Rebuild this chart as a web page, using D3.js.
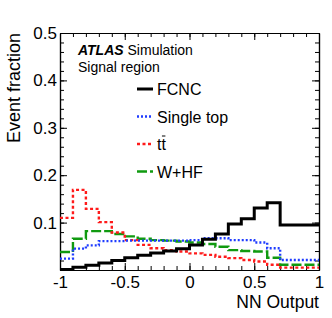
<!DOCTYPE html>
<html>
<head>
<meta charset="utf-8">
<script src="https://cdn.jsdelivr.net/npm/d3@7"></script>
<style>
  body { margin: 0; background: #fff; }
  text { font-family: "Liberation Sans", Arial, sans-serif; fill: #000; }
</style>
</head>
<body>
<div id="chart"></div>
<script>
var svgWidth = 332;
var svgHeight = 318;

var margin = { top: 33, right: 13, bottom: 48, left: 60 };
var width = svgWidth - margin.left - margin.right;
var height = svgHeight - margin.top - margin.bottom;

// bin edges of the NN output histograms (last bin is wide)
var binEdges = [-1, -0.9, -0.8, -0.7, -0.6, -0.5, -0.4, -0.3, -0.2, -0.1, 0,
  0.1, 0.2, 0.3, 0.4, 0.5, 0.6, 0.7, 1];

// event fractions per bin
var fcnc = [0.001, 0.006, 0.010, 0.015, 0.020, 0.026, 0.031, 0.036, 0.040, 0.045,
  0.053, 0.065, 0.076, 0.097, 0.108, 0.131, 0.142, 0.095];
var singleTop = [0.024, 0.045, 0.052, 0.061, 0.061, 0.062, 0.062, 0.062, 0.062, 0.062,
  0.063, 0.067, 0.067, 0.063, 0.063, 0.058, 0.046, 0.021];
var ttbar = [0.110, 0.169, 0.129, 0.101, 0.079, 0.063, 0.053, 0.046, 0.042, 0.039,
  0.035, 0.032, 0.028, 0.025, 0.021, 0.018, 0.011, 0.005];
var wHF = [0.038, 0.066, 0.082, 0.082, 0.076, 0.071, 0.066, 0.063, 0.062, 0.060,
  0.058, 0.055, 0.049, 0.042, 0.040, 0.039, 0.026, 0.011];

var xTicks = [-1, -0.5, 0, 0.5, 1];
var yTicks = [0.1, 0.2, 0.3, 0.4, 0.5];

var series = [
  { name: "FCNC", values: fcnc, color: "#000000", width: 3, dash: null },
  { name: "Single top", values: singleTop, color: "#1f3cff", width: 2.4, dash: "2,2" },
  { name: "tt", values: ttbar, color: "#ff1a1a", width: 2.4, dash: "3,2.5" },
  { name: "W+HF", values: wHF, color: "#109a10", width: 2.4, dash: "10,3" }
];

var svg = d3.select("#chart")
  .append("svg")
  .attr("width", svgWidth)
  .attr("height", svgHeight);

var chartGroup = svg.append("g")
  .attr("transform", `translate(${margin.left}, ${margin.top})`);

var xScale = d3.scaleLinear().domain([-1, 1]).range([0, width]);
var yScale = d3.scaleLinear().domain([0, 0.5]).range([height, 0]);

var xMinor = d3.range(-10, 11).map(d => d / 10);
var yMinor = d3.range(0, 26).map(d => d / 50);

function styleAxis(g) {
  g.selectAll("path.domain").attr("stroke", "#000").attr("stroke-width", 1.2);
  g.selectAll(".tick line").attr("stroke", "#000").attr("stroke-width", 1);
  g.selectAll(".tick text")
    .style("font-family", "'Liberation Sans', Arial, sans-serif")
    .attr("font-size", 17)
    .attr("fill", "#000");
}

// minor ticks (inside, all four sides)
chartGroup.append("g")
  .attr("transform", `translate(0, ${height})`)
  .call(d3.axisBottom(xScale).tickValues(xMinor).tickFormat("").tickSize(-4).tickSizeOuter(0))
  .call(styleAxis);
chartGroup.append("g")
  .call(d3.axisTop(xScale).tickValues(xMinor).tickFormat("").tickSize(-4).tickSizeOuter(0))
  .call(styleAxis);
chartGroup.append("g")
  .call(d3.axisLeft(yScale).tickValues(yMinor).tickFormat("").tickSize(-4).tickSizeOuter(0))
  .call(styleAxis);
chartGroup.append("g")
  .attr("transform", `translate(${width}, 0)`)
  .call(d3.axisRight(yScale).tickValues(yMinor).tickFormat("").tickSize(-4).tickSizeOuter(0))
  .call(styleAxis);

// major ticks with labels
chartGroup.append("g")
  .attr("transform", `translate(0, ${height})`)
  .call(d3.axisBottom(xScale).tickValues(xTicks).tickFormat(d => d3.format("")(d).replace("−", "-"))
    .tickSize(-7).tickSizeOuter(0).tickPadding(6))
  .call(styleAxis);
chartGroup.append("g")
  .call(d3.axisTop(xScale).tickValues(xTicks).tickFormat("").tickSize(-7).tickSizeOuter(0))
  .call(styleAxis);
chartGroup.append("g")
  .call(d3.axisLeft(yScale).tickValues(yTicks).tickFormat(d3.format(".1f"))
    .tickSize(-7).tickSizeOuter(0).tickPadding(3))
  .call(styleAxis);
chartGroup.append("g")
  .attr("transform", `translate(${width}, 0)`)
  .call(d3.axisRight(yScale).tickValues(yTicks).tickFormat("").tickSize(-7).tickSizeOuter(0))
  .call(styleAxis);

// histogram step lines
var stepLine = d3.line()
  .x(d => xScale(d[0]))
  .y(d => yScale(d[1]));

function stepPoints(values) {
  var pts = [];
  values.forEach(function (v, i) {
    pts.push([binEdges[i], v]);
    pts.push([binEdges[i + 1], v]);
  });
  return pts;
}

// draw back to front so FCNC is on top
series.slice().reverse().forEach(function (s) {
  chartGroup.append("path")
    .datum(stepPoints(s.values))
    .attr("d", stepLine)
    .attr("fill", "none")
    .attr("stroke", s.color)
    .attr("stroke-width", s.width)
    .attr("stroke-dasharray", s.dash);
});

// ATLAS label
var atlas = chartGroup.append("text")
  .attr("x", 18)
  .attr("y", 22)
  .attr("font-size", 14);
atlas.append("tspan")
  .attr("font-weight", "bold")
  .attr("font-style", "italic")
  .text("ATLAS");
atlas.append("tspan").text(" Simulation");

chartGroup.append("text")
  .attr("x", 18)
  .attr("y", 39)
  .attr("font-size", 14)
  .text("Signal region");

// legend
var legend = chartGroup.append("g")
  .attr("transform", "translate(77, 56)");

series.forEach(function (s, i) {
  var row = legend.append("g").attr("transform", `translate(0, ${i * 27.5})`);
  row.append("line")
    .attr("x1", 0).attr("x2", 16)
    .attr("y1", 0).attr("y2", 0)
    .attr("stroke", s.color)
    .attr("stroke-width", s.width)
    .attr("stroke-dasharray", s.dash);
  var t = row.append("text")
    .attr("x", 20)
    .attr("y", 6)
    .attr("font-size", 16)
    .text(s.name);
  if (s.name === "tt") {
    // bar over the second t
    var node = t.node();
    var x0 = node.getStartPositionOfChar(1).x;
    var x1 = node.getEndPositionOfChar(1).x;
    row.append("line")
      .attr("x1", x0 + 0.5).attr("x2", x1 - 0.5)
      .attr("y1", -8).attr("y2", -8)
      .attr("stroke", "#000")
      .attr("stroke-width", 1);
  }
});

// axis titles
chartGroup.append("text")
  .attr("x", width)
  .attr("y", height + 38)
  .attr("text-anchor", "end")
  .attr("font-size", 17.5)
  .text("NN Output");

chartGroup.append("text")
  .attr("transform", "rotate(-90)")
  .attr("x", 0)
  .attr("y", -40)
  .attr("text-anchor", "end")
  .attr("font-size", 18)
  .text("Event fraction");
</script>
</body>
</html>
